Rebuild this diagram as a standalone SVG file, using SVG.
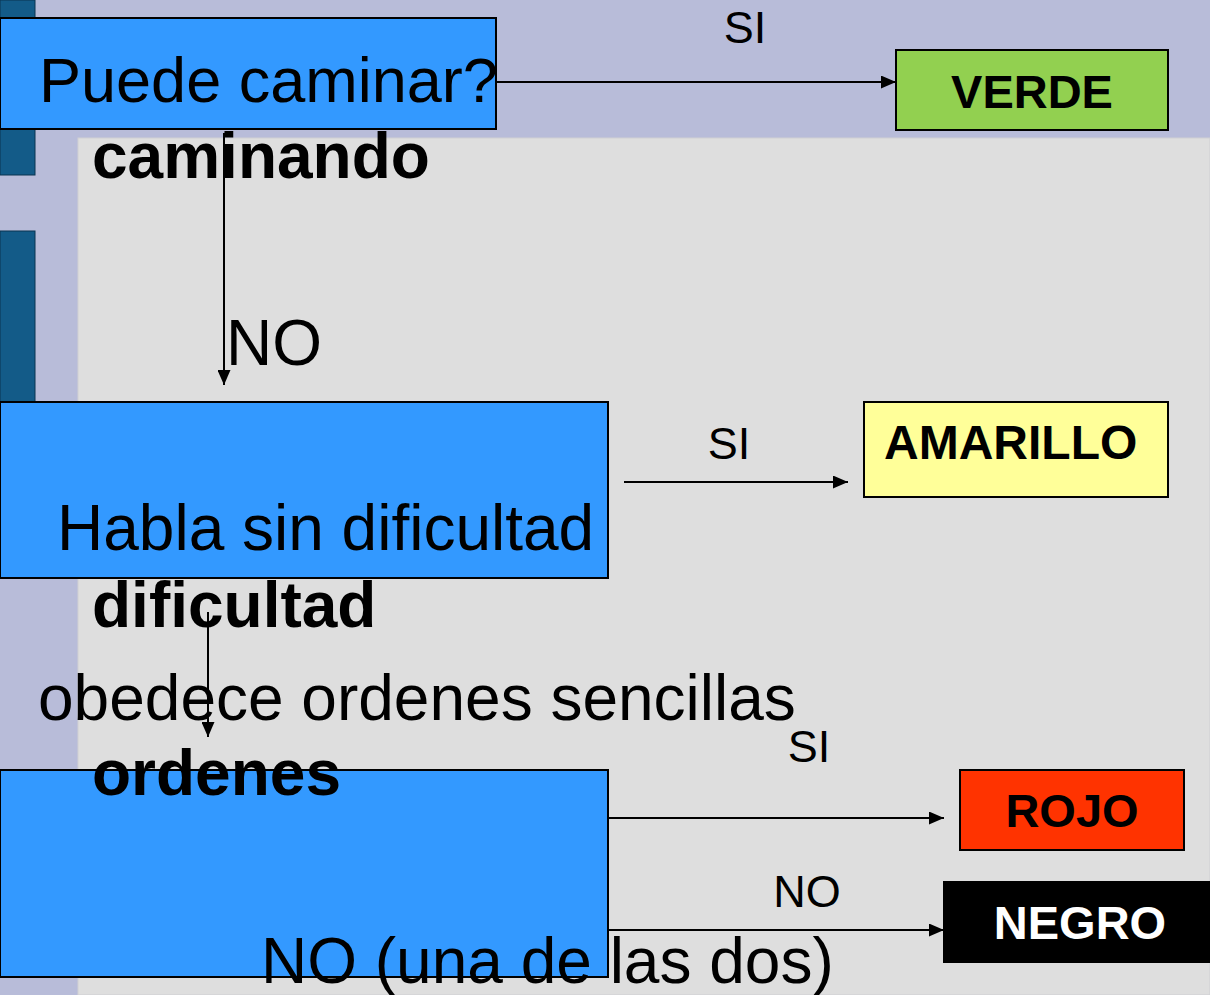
<svg xmlns="http://www.w3.org/2000/svg" width="1210" height="995" viewBox="0 0 1210 995">
<style>
.big{font-family:"Liberation Sans",Arial,sans-serif;font-size:64px;fill:#000}
.bigb{font-family:"Liberation Sans",Arial,sans-serif;font-size:64px;font-weight:bold;fill:#000}
.lbl{font-family:"Liberation Sans",Arial,sans-serif;font-size:45px;fill:#000}
.res{font-family:"Liberation Sans",Arial,sans-serif;font-size:47px;font-weight:bold}
.q{fill:#3399ff;stroke:#000;stroke-width:2}
.r{stroke:#000;stroke-width:2}
.c{stroke:#000;stroke-width:2;fill:none}
</style>
<defs>
<marker id="ah" markerWidth="15" markerHeight="13" refX="15" refY="6.5" orient="auto" markerUnits="userSpaceOnUse">
<path d="M0,0 L15,6.5 L0,13 Z" fill="#000"/>
</marker>
</defs>
<g id="background">
<rect x="0" y="0" width="1210" height="995" fill="#b8bcd9"/>
<rect x="78" y="138" width="1132" height="857" fill="#dedede" stroke="#cfcfd3" stroke-width="1"/>
<rect x="0" y="0" width="35" height="175" fill="#135b88" stroke="#0b3550" stroke-width="1"/>
<rect x="0" y="231" width="35" height="180" fill="#135b88" stroke="#0b3550" stroke-width="1"/>
</g>
<g id="node-camina">
<rect class="q" x="0" y="18" width="496" height="111"/>
<text class="big" x="39" y="102" style="font-size:63px">Puede caminar?</text>
<text class="bigb" x="92" y="178">caminando</text>
</g>
<g id="node-habla">
<rect class="q" x="0" y="402" width="608" height="176"/>
<text class="big" x="57" y="550">Habla sin dificultad</text>
<text class="bigb" x="92" y="627">dificultad</text>
</g>
<g id="node-obedece">
<text class="big" x="38" y="720">obedece ordenes sencillas</text>
<rect class="q" x="0" y="770" width="608" height="207"/>
<text class="bigb" x="92" y="795">ordenes</text>
<text class="big" x="261" y="983">NO (una de las dos)</text>
</g>
<g id="node-verde">
<rect class="r" x="896" y="50" width="272" height="80" fill="#92d050"/>
<text class="res" x="1032" y="108" text-anchor="middle" fill="#000">VERDE</text>
</g>
<g id="node-amarillo">
<rect class="r" x="864" y="402" width="304" height="95" fill="#ffff99"/>
<text class="res" x="884" y="459" fill="#000" style="font-size:48px">AMARILLO</text>
</g>
<g id="node-rojo">
<rect class="r" x="960" y="770" width="224" height="80" fill="#ff3300"/>
<text class="res" x="1072" y="827" text-anchor="middle" fill="#000">ROJO</text>
</g>
<g id="node-negro">
<rect x="943" y="881" width="267" height="82" fill="#000"/>
<text class="res" x="1080" y="939" text-anchor="middle" fill="#fff">NEGRO</text>
</g>
<g id="connectors">
<line class="c" x1="496" y1="82" x2="896" y2="82" marker-end="url(#ah)"/>
<text class="lbl" x="745" y="43" text-anchor="middle">SI</text>
<line class="c" x1="224" y1="133" x2="224" y2="385" marker-end="url(#ah)"/>
<text class="big" x="226" y="365">NO</text>
<line class="c" x1="624" y1="482" x2="848" y2="482" marker-end="url(#ah)"/>
<text class="lbl" x="729" y="459" text-anchor="middle">SI</text>
<line class="c" x1="208" y1="612" x2="208" y2="737" marker-end="url(#ah)"/>
<line class="c" x1="608" y1="818" x2="944" y2="818" marker-end="url(#ah)"/>
<text class="lbl" x="809" y="762" text-anchor="middle">SI</text>
<line class="c" x1="608" y1="930" x2="944" y2="930" marker-end="url(#ah)"/>
<text class="lbl" x="807" y="907" text-anchor="middle">NO</text>
</g>
</svg>
